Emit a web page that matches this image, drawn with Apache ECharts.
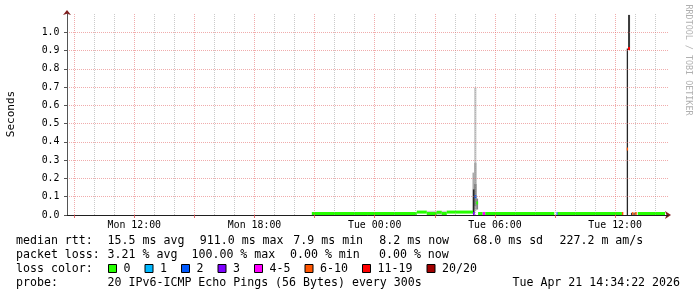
<!DOCTYPE html>
<html><head><meta charset="utf-8">
<script src="https://cdn.jsdelivr.net/npm/echarts@6/dist/echarts.min.js"></script>
<style>html,body{margin:0;padding:0;background:#fff;}#c{width:697px;height:297px;}</style>
</head><body><div id="c"></div>
<script>
// ---- axis data (hours since Mon 00:00) ----
const xStart = 8.64, xEnd = 38.64;
const xTickHours = [12, 18, 24, 30, 36];
const xTickLabels = ['Mon 12:00', 'Mon 18:00', 'Tue 00:00', 'Tue 06:00', 'Tue 12:00'];
const majorGridHours = [9, 12, 15, 18, 21, 24, 27, 30, 33, 36];
const minorGridHours = [10, 11, 13, 14, 16, 17, 19, 20, 22, 23, 25, 26, 28, 29, 31, 32, 34, 35, 37, 38];
const yTickValues = [0, 0.1, 0.2, 0.3, 0.4, 0.5, 0.6, 0.7, 0.8, 0.9, 1.0];
const yTickLabels = ['0.0', '0.1', '0.2', '0.3', '0.4', '0.5', '0.6', '0.7', '0.8', '0.9', '1.0'];
const yMax = 1.1;

// ---- median rtt (seconds) per run of 5-minute bins, with loss class ----
const medStart = [20.86, 26.10, 26.60, 27.095, 27.345, 27.595, 28.907, 28.99, 29.07, 29.16, 29.39, 29.52, 33.075, 33.135, 36.34, 36.58, 36.645, 36.85, 36.98, 37.13];
const medEnd   = [26.10, 26.60, 27.095, 27.345, 27.595, 28.907, 28.99, 29.07, 29.16, 29.39, 29.52, 32.965, 33.135, 36.34, 36.41, 36.645, 36.745, 36.91, 37.08, 38.49];
const medValue = [0.008, 0.016, 0.008, 0.015, 0.008, 0.016, 0.008, 0.100, 0.066, 0.008, 0.006, 0.008, 0.007, 0.008, 0.007, 0.361, 0.911, 0.007, 0.007, 0.008];
const medLoss  = [0, 0, 0, 0, 0, 0, 3, 2, 0, 0, 4, 0, 2, 0, 5, 5, 6, 5, 5, 0];

// ---- smoke (ping spread) per bin: low/high seconds and density level ----
const smokeStart = [26.60, 28.88, 28.96, 28.96, 28.96, 28.90, 29.07, 36.58, 36.645, 36.79, 36.91];
const smokeEnd   = [27.595, 28.99, 29.08, 29.08, 29.08, 28.98, 29.16, 36.645, 36.745, 36.85, 36.98];
const smokeLow   = [0.000, 0.005, 0.020, 0.030, 0.050, 0.010, 0.030, 0.000, 0.911, 0.000, 0.000];
const smokeHigh  = [0.023, 0.232, 0.697, 0.285, 0.170, 0.140, 0.090, 0.911, 1.095, 0.012, 0.012];
const smokeLevel = [1, 2, 1, 2, 3, 5, 3, 5, 4, 4, 4];

// ---- legend texts ----
const rowLabels = ['median rtt:', 'packet loss:', 'loss color:', 'probe:'];
const medianStats = ['15.5 ms avg', '911.0 ms max', '7.9 ms min', '8.2 ms now', '68.0 ms sd', '227.2 m am/s'];
const lossStats = ['3.21 % avg', '100.00 % max', '0.00 % min', '0.00 % now'];
const lossLegend = ['0', '1', '2', '3', '4-5', '6-10', '11-19', '20/20'];
const probeText = '20 IPv6-ICMP Echo Pings (56 Bytes) every 300s';
const dateText = 'Tue Apr 21 14:34:22 2026';
const yName = 'Seconds';
const watermark = 'RRDTOOL / TOBI OETIKER';

// ---- styles ----
const lossColors = ['#26ff00', '#00b8ff', '#0059ff', '#7e00ff', '#ff00ff', '#ff5500', '#ff0000', '#a10000'];
const smokeColors = [null, '#cfcfcf', '#ababab', '#858585', '#3a3a3a', '#262626'];
const FONT = '"DejaVu Sans Mono", monospace';
const FS = 11.6;
const AXFS = 9.9;
const minorColor = 'rgba(150,150,150,0.5)';
const majorColor = 'rgba(225,90,90,0.5)';

function findLabel(vals, labs, v) {
  for (let i = 0; i < vals.length; i++) if (Math.abs(vals[i] - v) < 1e-6) return labs[i];
  return '';
}

const gridMarks = [];
minorGridHours.forEach(h => gridMarks.push({xAxis: h, lineStyle: {color: minorColor, type: [1, 1], width: 1}}));
majorGridHours.forEach(h => gridMarks.push({xAxis: h, lineStyle: {color: majorColor, type: [1, 1], width: 1}}));
yTickValues.filter(v => v > 0).forEach(v => gridMarks.push({yAxis: v, lineStyle: {color: majorColor, type: [1, 1], width: 1}}));

const txt = (x, y, s, extra) => ({
  type: 'text', x: x, y: y, silent: true,
  style: Object.assign({text: s, font: FS + 'px ' + FONT, fill: '#000', verticalAlign: 'middle', align: 'left'}, extra || {})
});

const graphics = [];
const rowY = [240.7, 255.3, 269, 283.3];
rowLabels.forEach((l, i) => graphics.push(txt(16, rowY[i], l)));
const medX = [107.6, 199.8, 293.3, 379.3, 473.3, 559.5];
medianStats.forEach((s, i) => graphics.push(txt(medX[i], rowY[0], s)));
const lossX = [107.6, 191.5, 290, 379];
lossStats.forEach((s, i) => graphics.push(txt(lossX[i], rowY[1], s)));
let lx = 123.5;
lossLegend.forEach((s, i) => {
  graphics.push({type: 'rect', silent: true, shape: {x: lx - 15, y: 264.5, width: 8, height: 8},
    style: {fill: lossColors[i], stroke: '#000', lineWidth: 1}});
  graphics.push(txt(lx, rowY[2], s));
  lx += 7.0 * s.length + 29.5;
});
graphics.push(txt(107.6, rowY[3], probeText));
graphics.push(txt(680, rowY[3], dateText, {align: 'right'}));
graphics.push({type: 'text', silent: true, x: 11.5, y: 114, rotation: Math.PI / 2,
  style: {text: yName, font: '11px ' + FONT, fill: '#000', align: 'center', verticalAlign: 'middle'}});
graphics.push({type: 'text', silent: true, x: 688, y: 60, rotation: -Math.PI / 2,
  style: {text: watermark, font: '8.4px ' + FONT, fill: '#b0b0b0', align: 'center', verticalAlign: 'middle'}});

const chart = echarts.init(document.getElementById('c'), null, {renderer: 'canvas'});
const axisFont = {fontFamily: FONT, fontSize: AXFS, color: '#000'};

chart.setOption({
  animation: false,
  backgroundColor: '#fff',
  grid: {left: 67, right: 29, top: 14, bottom: 82, containLabel: false},
  xAxis: [{
    type: 'value', min: xStart, max: xEnd, position: 'bottom', z: 5,
    axisLine: {show: true, onZero: false, lineStyle: {color: '#1f1f1f', width: 1}},
    axisTick: {show: true, customValues: majorGridHours, length: 3, lineStyle: {color: 'rgba(222,79,79,0.8)'}},
    axisLabel: Object.assign({show: true, customValues: xTickHours, margin: 5,
      formatter: v => findLabel(xTickHours, xTickLabels, v)}, axisFont),
    splitLine: {show: false}
  }, {
    type: 'value', min: xStart, max: xEnd, position: 'bottom', z: 4,
    axisLine: {show: true, onZero: false, symbol: ['none', 'arrow'], symbolSize: [6, 6], symbolOffset: [0, 3],
      lineStyle: {color: '#801f1f', width: 1}},
    axisTick: {show: false}, axisLabel: {show: false}, splitLine: {show: false}
  }],
  yAxis: [{
    type: 'value', min: 0, max: yMax, position: 'left', z: 5,
    axisLine: {show: true, onZero: false, lineStyle: {color: '#555', width: 1}},
    axisTick: {show: true, customValues: yTickValues, length: 3, lineStyle: {color: '#555'}},
    axisLabel: Object.assign({show: true, customValues: yTickValues, margin: 7.5,
      formatter: v => findLabel(yTickValues, yTickLabels, v)}, axisFont),
    splitLine: {show: false}
  }, {
    type: 'value', min: 0, max: yMax, position: 'left', z: 4,
    axisLine: {show: true, onZero: false, symbol: ['none', 'arrow'], symbolSize: [6, 5], symbolOffset: [0, 4],
      lineStyle: {color: '#801f1f', width: 1}},
    axisTick: {show: false}, axisLabel: {show: false}, splitLine: {show: false}
  }],
  series: [{
    type: 'line', data: [], z: 1, silent: true,
    markLine: {silent: true, symbol: ['none', 'none'], label: {show: false}, animation: false, data: gridMarks}
  }, {
    type: 'custom', z: 3, silent: true, clip: true,
    data: smokeStart.map((s, i) => [s, smokeEnd[i], smokeLow[i], smokeHigh[i], smokeLevel[i]]),
    encode: {x: [0, 1], y: [2, 3]},
    renderItem: function (params, api) {
      const a = api.coord([api.value(0), api.value(3)]);
      const b = api.coord([api.value(1), api.value(2)]);
      return {type: 'rect', shape: {x: a[0], y: a[1], width: Math.max(1, b[0] - a[0]), height: b[1] - a[1]},
        style: {fill: smokeColors[api.value(4)]}};
    }
  }, {
    type: 'custom', z: 4, silent: true, clip: true,
    data: medStart.map((s, i) => [s, medEnd[i], medValue[i], medLoss[i]]),
    encode: {x: [0, 1], y: 2},
    renderItem: function (params, api) {
      const a = api.coord([api.value(0), api.value(2)]);
      const b = api.coord([api.value(1), api.value(2)]);
      const base = api.coord([api.value(0), 0])[1];
      let top = a[1] - 1.5, bot = a[1] + 1.5;
      if (bot > base) { top -= (bot - base); bot = base; }
      return {type: 'rect', shape: {x: a[0], y: top, width: Math.max(1, b[0] - a[0]), height: bot - top},
        style: {fill: lossColors[api.value(3)]}};
    }
  }],
  graphic: graphics
});
</script></body></html>
